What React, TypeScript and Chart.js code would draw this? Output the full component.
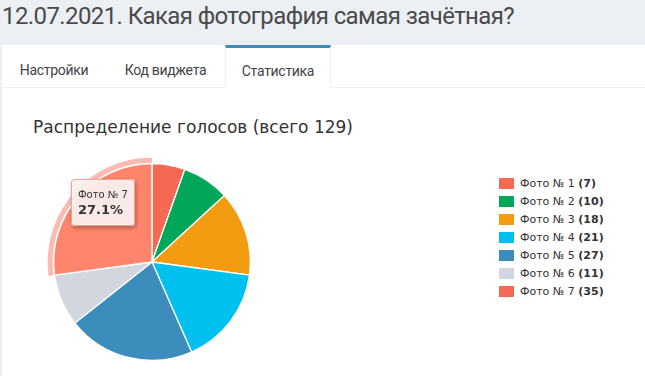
import React, { useEffect, useRef } from "react";
import { Chart, registerables } from "chart.js";

Chart.register(...registerables);

const pageTitle = "12.07.2021. Какая фотография самая зачётная?";
const tabs = ["Настройки", "Код виджета", "Статистика"];
const activeTab = 2;
const chartTitle = "Распределение голосов (всего 129)";
const labels = ["Фото № 1", "Фото № 2", "Фото № 3", "Фото № 4", "Фото № 5", "Фото № 6", "Фото № 7"];
const votes = [7, 10, 18, 21, 27, 11, 35];
const colors = ["#f56954", "#00a65a", "#f39c12", "#00c0ef", "#3c8dbc", "#d2d6de", "#f56954"];
const highlightedIndex = 6;
const highlightColor = "#ff866c";

const tabLefts = [2, 106, 225];
const tabWidths = [104, 119, 106];

export default function App() {
  const canvasRef = useRef<HTMLCanvasElement | null>(null);

  useEffect(() => {
    if (!canvasRef.current) return;
    const total = votes.reduce((a, b) => a + b, 0);
    const hoverPlugin = {
      id: "hoverLook",
      afterDatasetsDraw(chart: any) {
        const ctx = chart.ctx;
        const arc = chart.getDatasetMeta(0).data[highlightedIndex];
        if (!arc) return;
        const p = arc.getProps(["x", "y", "startAngle", "endAngle", "outerRadius"], true);
        ctx.save();
        ctx.beginPath();
        ctx.arc(p.x, p.y, p.outerRadius + 6, p.startAngle, p.endAngle);
        ctx.arc(p.x, p.y, p.outerRadius + 1, p.endAngle, p.startAngle, true);
        ctx.closePath();
        ctx.fillStyle = "rgba(245,105,84,0.45)";
        ctx.fill();
        ctx.restore();

        const tp = arc.tooltipPosition(true);
        const bx = Math.round(tp.x - 43.5);
        const by = Math.round(tp.y - 51);
        const bw = 64;
        const bh = 47;
        ctx.save();
        ctx.shadowColor = "rgba(0,0,0,0.35)";
        ctx.shadowBlur = 4;
        ctx.shadowOffsetX = 1;
        ctx.shadowOffsetY = 2;
        ctx.beginPath();
        ctx.roundRect(bx, by, bw, bh, 3);
        ctx.fillStyle = "rgba(255,244,242,0.93)";
        ctx.fill();
        ctx.restore();
        ctx.save();
        ctx.beginPath();
        ctx.roundRect(bx + 0.5, by + 0.5, bw - 1, bh - 1, 3);
        ctx.strokeStyle = "rgba(210,120,105,0.6)";
        ctx.lineWidth = 1;
        ctx.stroke();
        ctx.fillStyle = "#333";
        ctx.textBaseline = "alphabetic";
        ctx.font = "10px 'DejaVu Sans'";
        ctx.fillText(labels[highlightedIndex], bx + 7, by + 19);
        ctx.font = "bold 13px 'DejaVu Sans'";
        const pct = ((votes[highlightedIndex] / total) * 100).toFixed(1) + "%";
        ctx.fillText(pct, bx + 7, by + 35);
        ctx.restore();
      },
    };

    const chart = new Chart(canvasRef.current, {
      type: "pie",
      data: {
        labels,
        datasets: [
          {
            data: votes,
            backgroundColor: colors.map((c, i) => (i === highlightedIndex ? highlightColor : c)),
            borderColor: "#ffffff",
            borderWidth: 1.3,
          },
        ],
      },
      options: {
        responsive: false,
        animation: false,
        events: [],
        layout: { padding: 10 },
        plugins: {
          legend: { display: false },
          tooltip: { enabled: false },
        },
      },
      plugins: [hoverPlugin],
    });
    return () => chart.destroy();
  }, []);

  return (
    <div
      style={{
        position: "absolute",
        left: 0,
        top: 0,
        width: 645,
        height: 376,
        overflow: "hidden",
        background: "#ecf0f5",
        fontFamily: "Roboto, sans-serif",
      }}
    >
      <div
        style={{
          position: "absolute",
          left: 2,
          top: 2,
          fontSize: 24,
          lineHeight: "28px",
          color: "#4a4a4a",
          whiteSpace: "nowrap",
          letterSpacing: -0.6,
        }}
      >
        {pageTitle}
      </div>
      <div
        style={{
          position: "absolute",
          left: 2,
          top: 45,
          right: 0,
          bottom: 0,
          background: "#ffffff",
          borderTopLeftRadius: 3,
        }}
      />
      <div
        style={{
          position: "absolute",
          left: 2,
          top: 87,
          right: 0,
          height: 1,
          background: "#f0f0f0",
        }}
      />
      {tabs.map((t, i) => (
        <div
          key={t}
          style={{
            position: "absolute",
            left: tabLefts[i],
            top: 45,
            width: tabWidths[i],
            height: i === activeTab ? 43 : 42,
            boxSizing: "border-box",
            borderTop: i === activeTab ? "3px solid #3c8dbc" : "none",
            borderLeft: i === activeTab ? "1px solid #f0f0f0" : "none",
            borderRight: i === activeTab ? "1px solid #f0f0f0" : "none",
            background: "#ffffff",
            color: "#444",
            fontSize: 14,
            lineHeight: i === activeTab ? "46px" : "50px",
            textAlign: "center",
            letterSpacing: -0.3,
          }}
        >
          {t}
        </div>
      ))}
      <div
        style={{
          position: "absolute",
          left: 33,
          top: 115,
          fontFamily: "'DejaVu Sans', sans-serif",
          fontSize: 17,
          lineHeight: "24px",
          color: "#333",
          whiteSpace: "nowrap",
        }}
      >
        {chartTitle}
      </div>
      <canvas
        ref={canvasRef}
        width={218}
        height={218}
        style={{ position: "absolute", left: 43, top: 153, width: 218, height: 218 }}
      />
      <div style={{ position: "absolute", left: 499, top: 177 }}>
        {labels.map((l, i) => (
          <div
            key={l}
            style={{
              position: "relative",
              height: 18,
              display: "flex",
              alignItems: "flex-start",
              fontFamily: "'DejaVu Sans', sans-serif",
              fontSize: 11,
              color: "#333",
              whiteSpace: "nowrap",
            }}
          >
            <span
              style={{
                display: "inline-block",
                width: 15,
                height: 11,
                marginTop: 1,
                background: colors[i],
              }}
            />
            <span style={{ marginLeft: 6, lineHeight: "13px" }}>
              {l} <b>({votes[i]})</b>
            </span>
          </div>
        ))}
      </div>
    </div>
  );
}
